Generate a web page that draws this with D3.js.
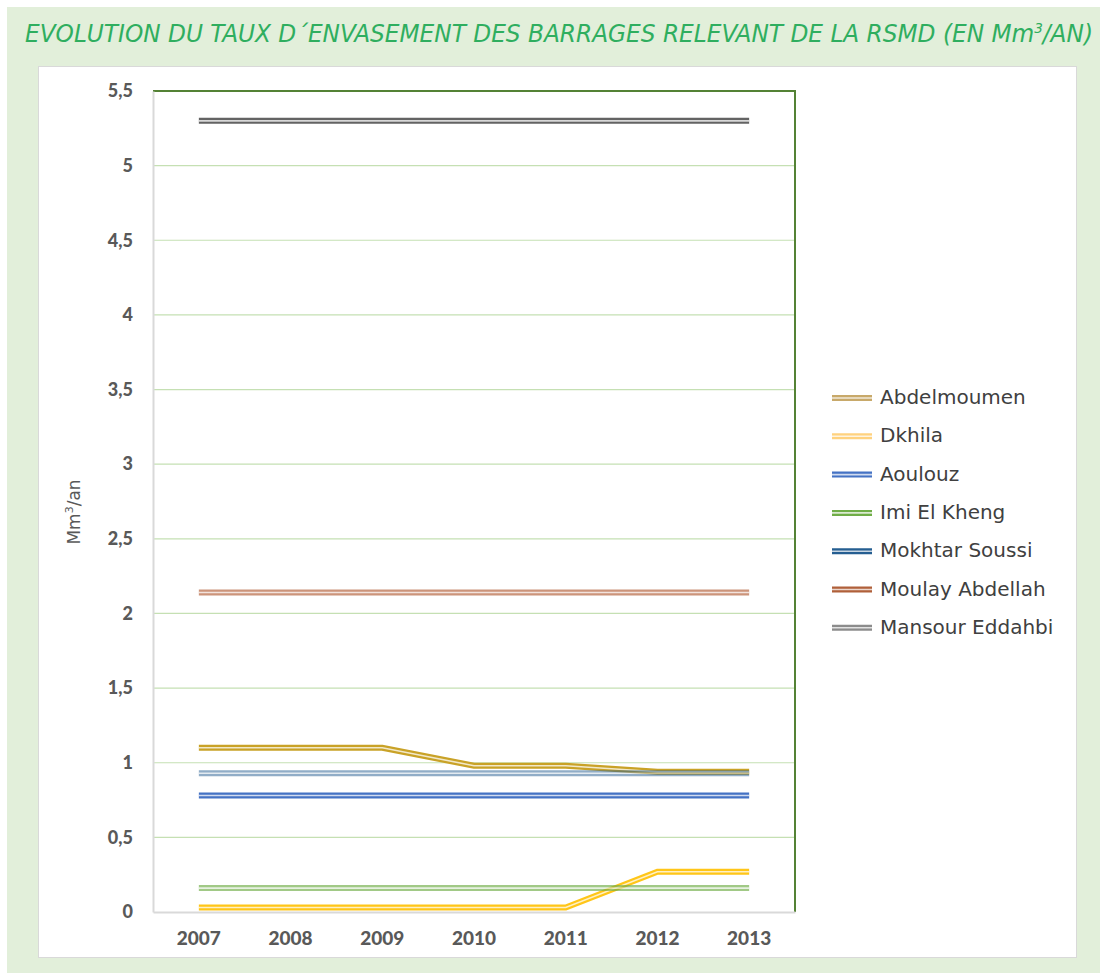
<!DOCTYPE html>
<html><head><meta charset="utf-8">
<script src="https://cdn.jsdelivr.net/npm/d3@7"></script>
<style>body{margin:0;background:#fff}svg{display:block}</style>
</head><body>
<script>
const years = ["2007","2008","2009","2010","2011","2012","2013"];
const seriesNames = ["Abdelmoumen","Dkhila","Aoulouz","Imi El Kheng","Mokhtar Soussi","Moulay Abdellah","Mansour Eddahbi"];
const abdelmoumen = [1.10,1.10,1.10,0.98,0.98,0.94,0.94];
const dkhila = [0.03,0.03,0.03,0.03,0.03,0.27,0.27];
const aoulouz = [0.78,0.78,0.78,0.78,0.78,0.78,0.78];
const imiElKheng = [0.16,0.16,0.16,0.16,0.16,0.16,0.16];
const mokhtarSoussi = [0.93,0.93,0.93,0.93,0.93,0.93,0.93];
const moulayAbdellah = [2.14,2.14,2.14,2.14,2.14,2.14,2.14];
const mansourEddahbi = [5.30,5.30,5.30,5.30,5.30,5.30,5.30];
const yTicks = [0,0.5,1,1.5,2,2.5,3,3.5,4,4.5,5,5.5];
const colors = ["#c9a227","#ffc000","#4472c4","#70ad47","#255e91","#c07a5a","#636363"];
const legendColors = ["#c8a96a","#ffd27f","#4472c4","#70ad47","#255e91","#b0603a","#8c8c8c"];
const opac = [1,0.9,1,0.65,0.5,0.8,1];

const data = [abdelmoumen,dkhila,aoulouz,imiElKheng,mokhtarSoussi,moulayAbdellah,mansourEddahbi];
const W=1107,H=979;
const svg=d3.select("body").append("svg").attr("width",W).attr("height",H);
svg.append("rect").attr("x",7).attr("y",7).attr("width",1093).attr("height",966).attr("fill","#e2efda");
svg.append("rect").attr("x",38.5).attr("y",66.5).attr("width",1038).attr("height",891).attr("fill","#fff").attr("stroke","#d9d9d9");

const t=svg.append("text").attr("x",25).attr("y",42).attr("font-family","DejaVu Sans Condensed, DejaVu Sans").attr("font-style","italic")
 .attr("font-size",24).attr("fill","#2fae5f").attr("textLength",1068).attr("lengthAdjust","spacingAndGlyphs");
t.append("tspan").text("EVOLUTION DU TAUX D´ENVASEMENT DES BARRAGES RELEVANT DE LA RSMD (EN Mm");
t.append("tspan").attr("dy",-9).attr("font-size",14).text("3");
t.append("tspan").attr("dy",9).text("/AN)");

const L=153,R=795,T=91,B=912;
const x=d3.scaleBand().domain(years).range([L,R]);
const y=d3.scaleLinear().domain([0,5.5]).range([B,T]);

const g=svg.append("g");
g.selectAll("line.grid").data(yTicks.slice(1,-1)).join("line").attr("class","grid")
 .attr("x1",L).attr("x2",R).attr("y1",d=>y(d)).attr("y2",d=>y(d)).attr("stroke","#c5e0b3").attr("stroke-width",1.2);

g.append("path").attr("d",`M${L},${y(5.5)}H${R}V${B}`).attr("fill","none").attr("stroke","#548235").attr("stroke-width",2);

const ya=svg.append("g").attr("transform",`translate(${L},0)`).call(d3.axisLeft(y).tickValues(yTicks).tickSize(0).tickPadding(20).tickFormat(d=>String(d).replace(".",",")));
ya.select(".domain").attr("stroke","#d9d9d9").attr("stroke-width",2);
ya.selectAll("text").attr("font-family","Lato").attr("font-weight","900").attr("font-size",18).attr("fill","#595959");
const xa=svg.append("g").attr("transform",`translate(0,${B})`).call(d3.axisBottom(x).tickSize(0).tickPadding(20));
xa.select(".domain").attr("stroke","#d9d9d9").attr("stroke-width",2);
xa.selectAll("text").attr("font-family","Lato").attr("font-weight","900").attr("font-size",19).attr("fill","#595959");

svg.append("text").attr("transform","translate(80,512) rotate(-90)").attr("text-anchor","middle")
 .attr("font-family","DejaVu Sans").attr("font-size",17).attr("fill","#595959")
 .html('Mm<tspan dy="-7" font-size="11">3</tspan><tspan dy="7">/an</tspan>');

const line=d3.line().x((d,i)=>x(years[i])+x.bandwidth()/2).y(d=>y(d));
data.forEach((s,k)=>{
  const gg=g.append("g").attr("opacity",opac[k]);
  gg.append("path").attr("d",line(s)).attr("fill","none").attr("stroke",colors[k]).attr("stroke-width",6);
  gg.append("path").attr("d",line(s)).attr("fill","none").attr("stroke","#fff").attr("stroke-opacity",0.75).attr("stroke-width",1.6);
});

const lg=svg.append("g");
seriesNames.forEach((n,i)=>{
  const yy=398+i*38.3;
  lg.append("line").attr("x1",832).attr("x2",872).attr("y1",yy).attr("y2",yy).attr("stroke",legendColors[i]).attr("stroke-width",6);
  lg.append("line").attr("x1",832).attr("x2",872).attr("y1",yy).attr("y2",yy).attr("stroke","#fff").attr("stroke-opacity",0.75).attr("stroke-width",1.6);
  lg.append("text").attr("x",880).attr("y",yy+6).attr("font-family","DejaVu Sans").attr("font-size",20).attr("fill","#404040").text(n);
});
</script>
</body></html>
